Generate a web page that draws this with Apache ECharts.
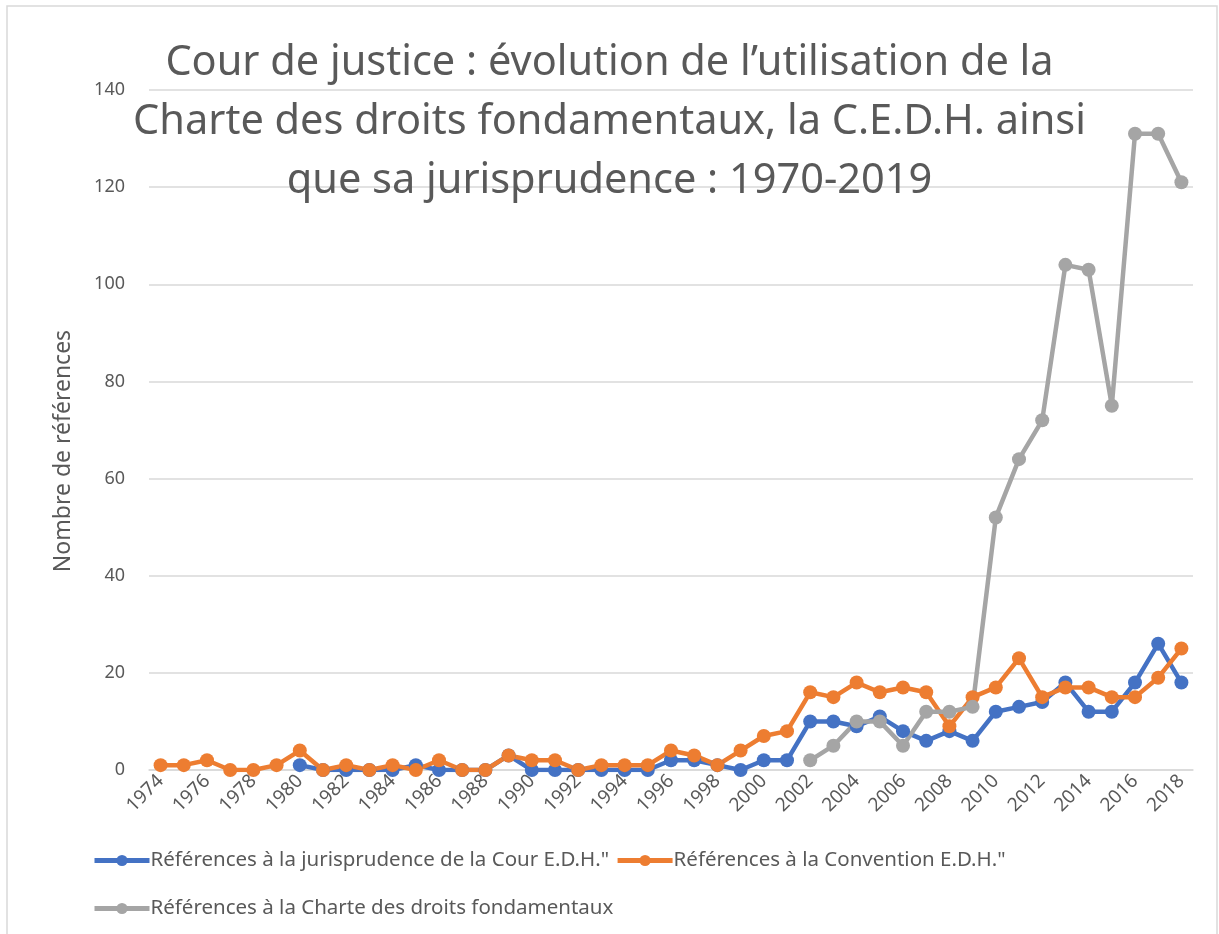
<!DOCTYPE html>
<html>
<head>
<meta charset="utf-8" />
<title>Cour de justice : références</title>
<script src="https://cdn.jsdelivr.net/npm/echarts@6/dist/echarts.min.js"></script>
<style>
    body { margin: 0; background: #fff; }
    #main { width: 1219px; height: 934px; }
</style>
</head>
<body>
<div id="main"></div>
<script type="text/javascript">
    // années 1974 - 2018
    var years = ['1974','1975','1976','1977','1978','1979','1980','1981','1982','1983',
        '1984','1985','1986','1987','1988','1989','1990','1991','1992','1993',
        '1994','1995','1996','1997','1998','1999','2000','2001','2002','2003',
        '2004','2005','2006','2007','2008','2009','2010','2011','2012','2013',
        '2014','2015','2016','2017','2018'];

    // Références à la jurisprudence de la Cour E.D.H.
    var jurisprudence = [null,null,null,null,null,null,1,0,0,0,
        0,1,0,0,0,3,0,0,0,0,
        0,0,2,2,1,0,2,2,10,10,
        9,11,8,6,8,6,12,13,14,18,
        12,12,18,26,18];

    // Références à la Convention E.D.H.
    var convention = [1,1,2,0,0,1,4,0,1,0,
        1,0,2,0,0,3,2,2,0,1,
        1,1,4,3,1,4,7,8,16,15,
        18,16,17,16,9,15,17,23,15,17,
        17,15,15,19,25];

    // Références à la Charte des droits fondamentaux
    var charte = [null,null,null,null,null,null,null,null,null,null,
        null,null,null,null,null,null,null,null,null,null,
        null,null,null,null,null,null,null,null,2,5,
        10,10,5,12,12,13,52,64,72,104,
        103,75,131,131,121];

    var yTicks = [0, 140, 20]; // min, max, pas

    var nomBleu = 'Références à la jurisprudence de la Cour E.D.H."';
    var nomOrange = 'Références à la Convention E.D.H."';
    var nomGris = 'Références à la Charte des droits fondamentaux';

    var police = 'Noto Sans';
    var gris = '#595959';

    var myChart = echarts.init(document.getElementById('main'));

    function serie(nom, couleur, data) {
        return {
            name: nom,
            type: 'line',
            data: data,
            symbol: 'circle',
            symbolSize: 14,
            lineStyle: { width: 4.5, color: couleur },
            itemStyle: { color: couleur },
            animation: false
        };
    }

    var legendeTexte = { fontFamily: police, fontSize: 20.5, color: gris, padding: [0, 0, 0, -4] };

    var option = {
        textStyle: { fontFamily: police },
        title: {
            text: 'Cour de justice : évolution de l’utilisation de la\nCharte des droits fondamentaux, la C.E.D.H. ainsi\nque sa jurisprudence : 1970-2019',
            left: 'center',
            top: 29,
            textStyle: {
                fontFamily: police,
                fontSize: 41.5,
                fontWeight: 'normal',
                color: gris,
                lineHeight: 59
            }
        },
        graphic: [{
            type: 'rect',
            shape: { x: 7, y: 6, width: 1210, height: 940 },
            style: { fill: 'none', stroke: '#d9d9d9', lineWidth: 1.5 },
            silent: true
        }],
        legend: [{
            data: [nomBleu, nomOrange],
            left: 87,
            top: 845,
            itemWidth: 55,
            itemHeight: 14,
            itemGap: 6,
            lineStyle: { width: 5 },
            textStyle: legendeTexte
        }, {
            data: [nomGris],
            left: 87,
            top: 893,
            itemWidth: 55,
            itemHeight: 14,
            lineStyle: { width: 5 },
            textStyle: legendeTexte
        }],
        grid: { left: 149, right: 26, top: 90, bottom: 164, containLabel: false },
        xAxis: {
            type: 'category',
            data: years,
            boundaryGap: true,
            axisLine: { lineStyle: { color: '#d9d9d9', width: 1.5 } },
            axisTick: { show: false },
            axisLabel: {
                interval: 1,
                rotate: 45,
                fontSize: 19,
                color: gris,
                margin: 8
            }
        },
        yAxis: {
            type: 'value',
            min: yTicks[0],
            max: yTicks[1],
            interval: yTicks[2],
            name: 'Nombre de références',
            nameLocation: 'middle',
            nameGap: 74,
            nameTextStyle: { fontSize: 23, color: gris, padding: [0, 42, 0, 0] },
            axisLine: { show: false },
            axisTick: { show: false },
            axisLabel: { fontSize: 18, color: gris, margin: 24 },
            splitLine: { lineStyle: { color: '#d9d9d9', width: 1.5 } }
        },
        series: [
            serie(nomBleu, '#4472c4', jurisprudence),
            serie(nomOrange, '#ed7d31', convention),
            serie(nomGris, '#a5a5a5', charte)
        ]
    };

    myChart.setOption(option);
</script>
</body>
</html>
